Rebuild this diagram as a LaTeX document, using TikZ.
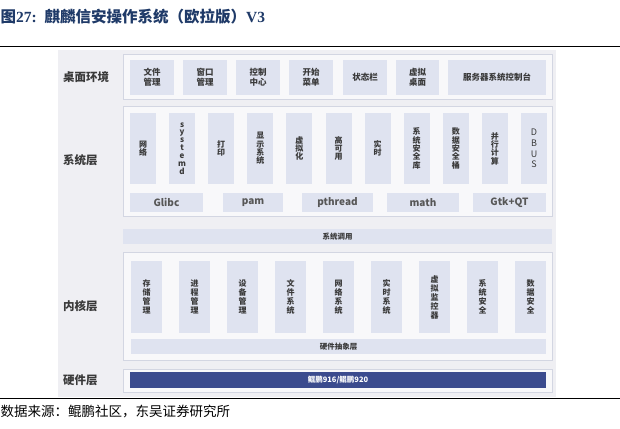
\documentclass[tikz,border=0pt]{standalone}
\usepackage{fontspec}
\setmainfont{Liberation Serif}
\newfontfamily\cjk{Noto Sans CJK SC}
\definecolor{panel}{HTML}{EFEFF3}
\definecolor{outerf}{HTML}{F8F8FA}
\definecolor{outerd}{HTML}{D3D6E2}
\definecolor{itemf}{HTML}{DFE3F0}
\definecolor{txt}{HTML}{3A3A3A}
\definecolor{hw}{HTML}{3B4B8E}
\definecolor{titlec}{HTML}{1F3A68}
\tikzset{
  outerbox/.style={draw=outerd, fill=outerf, line width=0.8pt, inner sep=0pt},
  item/.style={fill=itemf, text=txt, inner sep=0pt, align=center, font=\cjk\bfseries\fontsize{8}{9}\selectfont},
  ditem/.style={item, minimum height=35pt, font=\cjk\bfseries\fontsize{8.5}{10}\selectfont},
  sitem/.style={item, minimum width=26pt, minimum height=71pt, font=\cjk\bfseries\fontsize{8}{8.3}\selectfont},
  kitem/.style={item, minimum width=31pt, minimum height=72pt, font=\cjk\bfseries\fontsize{8}{9}\selectfont},
  lib/.style={item, minimum height=19pt, font=\cjk\bfseries\fontsize{10}{12}\selectfont, text=txt!85},
  bar/.style={item, font=\cjk\bfseries\fontsize{7.5}{9}\selectfont},
  layer/.style={anchor=west, inner sep=0pt, text=txt, font=\cjk\bfseries\fontsize{11.5}{13}\selectfont},
}
\begin{document}
\begin{tikzpicture}[x=1pt,y=-1pt]
\useasboundingbox (0,0) rectangle (620,428);
\fill[white] (0,0) rectangle (620,428);
% title and rules
\node[anchor=west, inner sep=0pt, text=titlec, font=\bfseries\fontsize{15.5}{17}\selectfont] (title) at (0.5,17) {{\cjk 图}27:\, {\cjk 麒麟信安操作系统（欧拉版）}V3};
\draw[line width=1.5pt] (0,46.5) -- (620,46.5);
\draw[line width=1.5pt] (0,398.5) -- (620,398.5);
\node[anchor=west, inner sep=0pt, font=\cjk\fontsize{13.5}{15}\selectfont] (src) at (0.5,411) {数据来源：鲲鹏社区，东吴证券研究所};
% panel
\fill[panel] (58,50) rectangle (556,397);
% layer labels
\node[layer] (Ldesk) at (63,77) {桌面环境};
\node[layer] (Lsys) at (63,160) {系统层};
\node[layer] (Lker) at (63,306) {内核层};
\node[layer] (Lhw) at (63,380) {硬件层};
% outer boxes
\node[outerbox, minimum width=429pt, minimum height=45pt] (desk) at (337.5,76.5) {};
\node[outerbox, minimum width=429pt, minimum height=110pt] (sys) at (337.5,161) {};
\node[outerbox, minimum width=429pt, minimum height=108pt] (ker) at (337.5,306) {};
\node[outerbox, minimum width=429pt, minimum height=23pt] (hwbox) at (337.5,380.5) {};
% desktop items
\node[ditem, minimum width=44pt] (d1) at (152,77.5) {文件\\管理};
\node[ditem, minimum width=44pt] (d2) at (205,77.5) {窗口\\管理};
\node[ditem, minimum width=44pt] (d3) at (258,77.5) {控制\\中心};
\node[ditem, minimum width=44pt] (d4) at (311,77.5) {开始\\菜单};
\node[ditem, minimum width=44pt] (d5) at (365,77.5) {状态栏};
\node[ditem, minimum width=43pt] (d6) at (417.5,77.5) {虚拟\\桌面};
\node[ditem, minimum width=98pt] (d7) at (497,77.5) {服务器系统控制台};
% system items
\node[sitem] (s1) at (143,148.5) {网\\络};
\node[sitem, font=\cjk\bfseries\fontsize{8}{7.9}\selectfont] (s2) at (182.1,148.5) {s\\y\\s\\t\\e\\m\\d};
\node[sitem] (s3) at (221.2,148.5) {打\\印};
\node[sitem] (s4) at (260.3,148.5) {显\\示\\系\\统};
\node[sitem] (s5) at (299.4,148.5) {虚\\拟\\化};
\node[sitem] (s6) at (338.5,148.5) {高\\可\\用};
\node[sitem] (s7) at (377.6,148.5) {实\\时};
\node[sitem] (s8) at (416.7,148.5) {系\\统\\安\\全\\库};
\node[sitem] (s9) at (455.8,148.5) {数\\据\\安\\全\\桶};
\node[sitem] (s10) at (494.9,148.5) {并\\行\\计\\算};
\node[sitem, font=\cjk\fontsize{9}{10.8}\selectfont] (s11) at (534,148.5) {D\\B\\U\\S};
% libraries
\node[lib, minimum width=73pt] (l1) at (166.5,202.5) {Glibc};
\node[lib, minimum width=60pt] (l2) at (253,202.5) {pam};
\node[lib, minimum width=71pt] (l3) at (337.5,202.5) {pthread};
\node[lib, minimum width=72pt] (l4) at (423,202.5) {math};
\node[lib, minimum width=73pt] (l5) at (509.5,202.5) {Gtk+QT};
% system call bar
\node[bar, minimum width=429pt, minimum height=15pt] (call) at (337.5,236.5) {系统调用};
% kernel items
\node[kitem] (k1) at (146.5,297) {存\\储\\管\\理};
\node[kitem] (k2) at (194.5,297) {进\\程\\管\\理};
\node[kitem] (k3) at (242.5,297) {设\\备\\管\\理};
\node[kitem] (k4) at (290.5,297) {文\\件\\系\\统};
\node[kitem] (k5) at (338.5,297) {网\\络\\系\\统};
\node[kitem] (k6) at (386.5,297) {实\\时\\系\\统};
\node[kitem] (k7) at (434.5,297) {虚\\拟\\监\\控\\器};
\node[kitem] (k8) at (482.5,297) {系\\统\\安\\全};
\node[kitem] (k9) at (530.5,297) {数\\据\\安\\全};
\node[bar, minimum width=415pt, minimum height=15pt] (hal) at (338.5,346.5) {硬件抽象层};
% hardware
\node[bar, fill=hw, text=white, minimum width=416pt, minimum height=16pt, font=\cjk\bfseries\fontsize{7.5}{9}\selectfont] (chip) at (338,380) {鲲鹏916/鲲鹏920};
\end{tikzpicture}
\end{document}
